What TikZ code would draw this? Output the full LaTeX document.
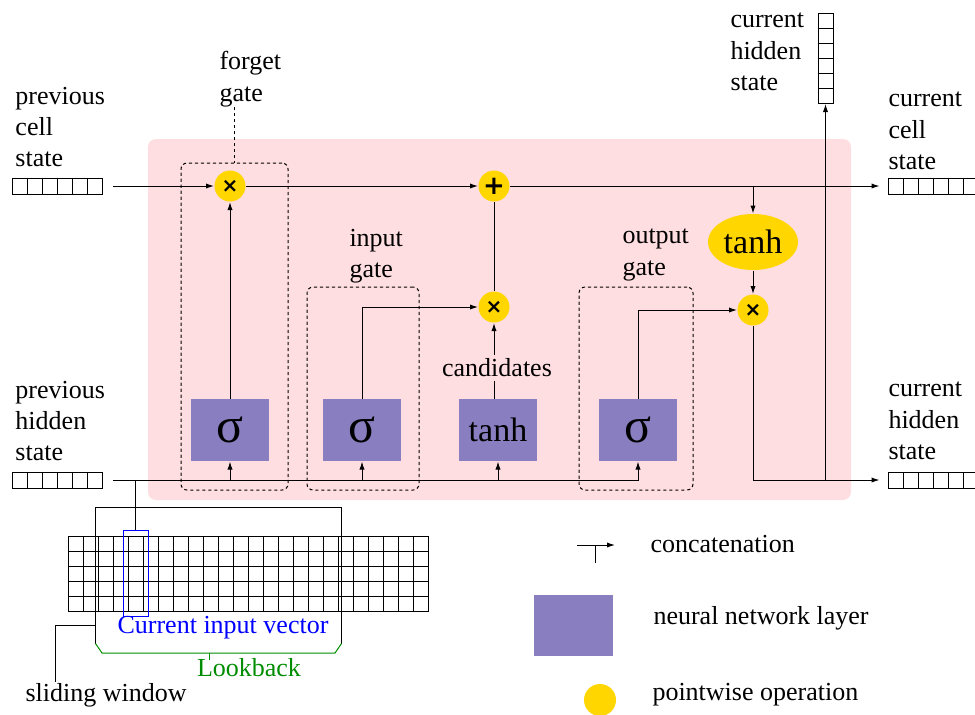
\documentclass[tikz,border=0pt]{standalone}
\usepackage{fontspec}
\setmainfont{Liberation Serif}
\newfontfamily\symfont{DejaVu Sans}
\usetikzlibrary{arrows.meta,shapes.geometric,calc}
\definecolor{cellpink}{RGB}{255,222,225}
\definecolor{layerpurple}{RGB}{137,127,192}
\definecolor{opyellow}{RGB}{255,214,0}
\definecolor{lbgreen}{RGB}{0,140,0}
\begin{document}
\begin{tikzpicture}[x=0.5pt,y=-0.5pt,
  >={Latex[length=4pt,width=2.6pt]}, line width=0.5pt,
  every node/.style={font=\fontsize{13pt}{15.7pt}\selectfont, inner sep=0pt},
  lbl/.style={align=left, anchor=west},
  vech/.style={draw, minimum width=45pt, minimum height=8pt,
    path picture={\foreach \k in {1,...,5}{\draw ([xshift=\k*7.5pt]path picture bounding box.north west) -- ([xshift=\k*7.5pt]path picture bounding box.south west);}}},
  vecv/.style={draw, minimum width=7.5pt, minimum height=45pt,
    path picture={\foreach \k in {1,...,5}{\draw ([yshift=-\k*7.5pt]path picture bounding box.north west) -- ([yshift=-\k*7.5pt]path picture bounding box.north east);}}},
  layer/.style={fill=layerpurple, minimum width=39pt, minimum height=31pt},
  sig/.style={layer, font=\fontsize{25pt}{25pt}\selectfont},
  tanhbox/.style={layer, font=\fontsize{17pt}{17pt}\selectfont},
  op/.style={circle, fill=opyellow, minimum size=15.5pt},
  gatebox/.style={draw, dash pattern=on 1.6pt off 1.4pt, rounded corners=3pt},
  tm/.style={font=\symfont\bfseries\fontsize{10pt}{10pt}\selectfont},
  pl/.style={font=\symfont\bfseries\fontsize{13pt}{13pt}\selectfont}
]
\useasboundingbox (0,0) rectangle (975,714);
% background
\fill[cellpink, rounded corners=4pt] (148,139) rectangle (851,500);

% gate boxes
\node[gatebox, minimum width=53.5pt, minimum height=163.5pt] (fgbox) at (234.5,326.5) {};
\node[gatebox, minimum width=56pt, minimum height=101.5pt] (igbox) at (363,388.5) {};
\node[gatebox, minimum width=57pt, minimum height=101.5pt] (ogbox) at (636,388.5) {};

% vectors
\node[vech] (pc) at (57.5,186) {};
\node[vech] (ph) at (57.5,480) {};
\node[vech] (cc) at (933,186) {};
\node[vech] (ch) at (933,480) {};
\node[vecv] (tv) at (825.5,58.5) {};

% labels
\node[lbl] (pcl) at (15,127) {previous\\cell\\state};
\node[lbl] (phl) at (15,421) {previous\\hidden\\state};
\node[lbl] (ccl) at (888,131) {current\\cell\\state};
\node[lbl] (chl) at (888,421) {current\\hidden\\state};
\node[lbl] (tvl) at (730,52) {current\\hidden\\state};
\node[lbl] (fgl) at (219,79) {forget\\gate};
\node[lbl] (igl) at (349,256) {input\\gate};
\node[lbl] (ogl) at (622,255) {output\\gate};

% layers
\node[sig] (fsig) at (230,430) {σ};
\node[sig] (isig) at (362,430) {σ};
\node[tanhbox] (tbox) at (498,430) {tanh};
\node[sig] (osig) at (638,430) {σ};

% pointwise ops
\node[op, tm] (fx) at (230,186) {×};
\node[op, pl] (plus) at (494,186) {+};
\node[op, tm] (ix) at (494,307) {×};
\node[op, tm] (ox) at (753,310) {×};
\node[ellipse, fill=opyellow, minimum width=45pt, minimum height=28pt, font=\fontsize{17pt}{17pt}\selectfont] (te) at (753,242) {tanh};

% connectors
\draw[dash pattern=on 1.6pt off 1.4pt] (fgbox.north |- fgl.south) -- (fgbox.north);
\draw[->] ([xshift=5pt]pc.east) -- (fx.west);
\draw[->] (fx.east) -- (plus.west);
\draw[->] (plus.east) -- ([xshift=-4pt]cc.west);
\draw[->] (fsig.north) -- (fx.south);
\draw[->] ([xshift=5pt]ph.east) -| (osig.south);
\draw[->] (fsig.south |- ph.east) -- (fsig.south);
\draw[->] (isig.south |- ph.east) -- (isig.south);
\draw[->] (tbox.south |- ph.east) -- (tbox.south);
\draw[->] (isig.north) |- (ix.west);
\draw[->] (ix.south |- tbox.north) -- (ix.south);
\node[fill=cellpink, inner ysep=2pt, inner xsep=1pt] (cand) at (497,368) {candidates};
\draw (ix.north) -- (plus.south);
\draw[->] (osig.north) |- (ox.west);
\draw[->] (te.north |- plus.east) -- (te.north);
\draw[->] (te.south) -- (ox.north);
\draw[->] (ox.south) |- ([xshift=-4pt]ch.west);
\draw[->] (tv.south |- ch.west) -- (tv.south);

% input sequence grid
\foreach \i in {0,...,24}{\draw (68+\i*15.04,536) -- (68+\i*15.04,611);}
\foreach \j in {0,...,5}{\draw (68,536+\j*15) -- (429,536+\j*15);}
\node[minimum width=122.5pt, minimum height=67.5pt] (sw) at (218.5,575.5) {};
\draw (sw.south west) -- (sw.north west) -- (sw.north east) -- (sw.south east);
\node[draw=blue, minimum width=12.5pt, minimum height=43pt] (civ) at (135.5,573) {};
\draw (civ.north |- ph.east) -- (civ.north);
\node[text=blue] (civl) at (223,628) {Current input vector};
\coordinate (lb1) at (102,653);
\coordinate (lb2) at (335,653);
\coordinate (lbt) at (209,660);
\draw[lbgreen] (sw.south west) -- (lb1) -- (lb2) -- (sw.south east);
\draw[lbgreen] (lbt |- lb1) -- (lbt);
\node[text=lbgreen] (lbl) at (249,668) {Lookback};
\node[lbl] (swl) at (25,695) {sliding window};
\coordinate (swp) at (96,625);
\coordinate (swk) at (55,682);
\draw (swp) -| (swk);

% legend
\coordinate (c1) at (577,545);
\coordinate (c2) at (615,545);
\coordinate (c3) at (595,563);
\draw[->] (c1) -- (c2);
\draw (c3 |- c1) -- (c3);
\node[lbl] (lc) at (650,544) {concatenation};
\node[fill=layerpurple, minimum width=39.5pt, minimum height=30.5pt] (lnn) at (573.5,625.5) {};
\node[lbl] (lnnl) at (653,618) {neural network layer};
\node[circle, fill=opyellow, minimum size=16pt] (lpo) at (600,700) {};
\node[lbl] (lpol) at (652,695) {pointwise operation};
\end{tikzpicture}
\end{document}
